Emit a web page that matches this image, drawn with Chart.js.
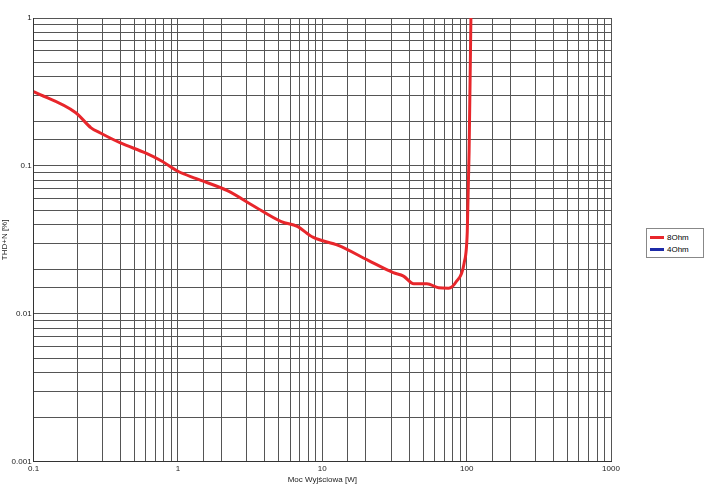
<!DOCTYPE html>
<html>
<head>
<meta charset="utf-8">
<script src="https://cdn.jsdelivr.net/npm/chart.js@4"></script>
<style>
  body { margin: 0; background: #fff; font-family: "Liberation Sans", Arial, sans-serif; }
  #wrap { position: relative; width: 705px; height: 485px; }
  #legend { position: absolute; left: 646px; top: 228px; width: 50px; border: 1px solid #888; padding: 2px 3px; font-size: 8px; background: #fff; }
  #legend div { display: flex; align-items: center; height: 12px; }
  #legend span.sw { display: inline-block; width: 14px; height: 3px; margin-right: 3px; }
</style>
</head>
<body>
<div id="wrap">
  <canvas id="myChart" width="705" height="485"></canvas>
  <div id="legend"></div>
</div>
<script>
const seriesNames = ['8Ohm', '4Ohm'];
const seriesColors = ['#e8262b', '#1c2aa8'];
const power8 = [0.1, 0.196, 0.25, 0.29, 0.4, 0.6, 0.77, 1.0, 1.34, 2.2, 3.3, 5.2, 6.7, 8.6, 12.9, 20.8, 31, 36.5, 43, 53, 64, 75, 85, 96, 101, 104, 107];
const thd8 = [0.318, 0.229, 0.181, 0.167, 0.143, 0.122, 0.108, 0.092, 0.082, 0.068, 0.054, 0.042, 0.039, 0.033, 0.029, 0.023, 0.019, 0.018, 0.016, 0.016, 0.015, 0.0149, 0.0166, 0.022, 0.036, 0.126, 1];
const decadesX = [0.1, 1, 10, 100, 1000];
const decadesY = [0.001, 0.01, 0.1, 1];

const isDecade = (v, list) => list.some(d => Math.abs(v / d - 1) < 1e-6);

const ctx = document.getElementById('myChart').getContext('2d');
const chart = new Chart(ctx, {
  type: 'line',
  data: {
    datasets: [{
      label: seriesNames[0],
      data: power8.map((x, i) => ({ x, y: thd8[i] })),
      borderColor: seriesColors[0],
      borderWidth: 3,
      pointRadius: 0,
      cubicInterpolationMode: 'monotone',
    }, {
      label: seriesNames[1],
      data: [],
      borderColor: seriesColors[1],
      borderWidth: 3,
      pointRadius: 0,
    }],
  },
  options: {
    responsive: false,
    animation: false,
    layout: { padding: { left: 0, right: 94, top: 18, bottom: 0 } },
    plugins: { legend: { display: false }, tooltip: { enabled: false } },
    scales: {
      x: {
        type: 'logarithmic',
        min: 0.1,
        max: 1000,
        grid: { color: '#555', lineWidth: 1, drawTicks: false },
        border: { color: '#333' },
        ticks: {
          font: { size: 8, family: 'Liberation Sans' },
          color: '#222',
          autoSkip: false,
          maxRotation: 0,
          padding: 2,
          callback: (v) => (isDecade(v, decadesX) ? String(v) : ''),
        },
        title: { display: true, text: 'Moc Wyjściowa [W]', font: { size: 8, family: 'Liberation Sans' }, color: '#222', padding: 0 },
      },
      y: {
        type: 'logarithmic',
        min: 0.001,
        max: 1,
        grid: { color: '#555', lineWidth: 1, drawTicks: false },
        border: { color: '#333' },
        ticks: {
          font: { size: 8, family: 'Liberation Sans' },
          color: '#222',
          autoSkip: false,
          padding: 2,
          callback: (v) => (isDecade(v, decadesY) ? String(v) : ''),
        },
        title: { display: true, text: 'THD+N [%]', font: { size: 8, family: 'Liberation Sans' }, color: '#222', padding: 0 },
      },
    },
  },
});

const legend = document.getElementById('legend');
seriesNames.forEach((name, i) => {
  const row = document.createElement('div');
  row.innerHTML = '<span class="sw" style="background:' + seriesColors[i] + '"></span>' + name;
  legend.appendChild(row);
});
</script>
</body>
</html>
